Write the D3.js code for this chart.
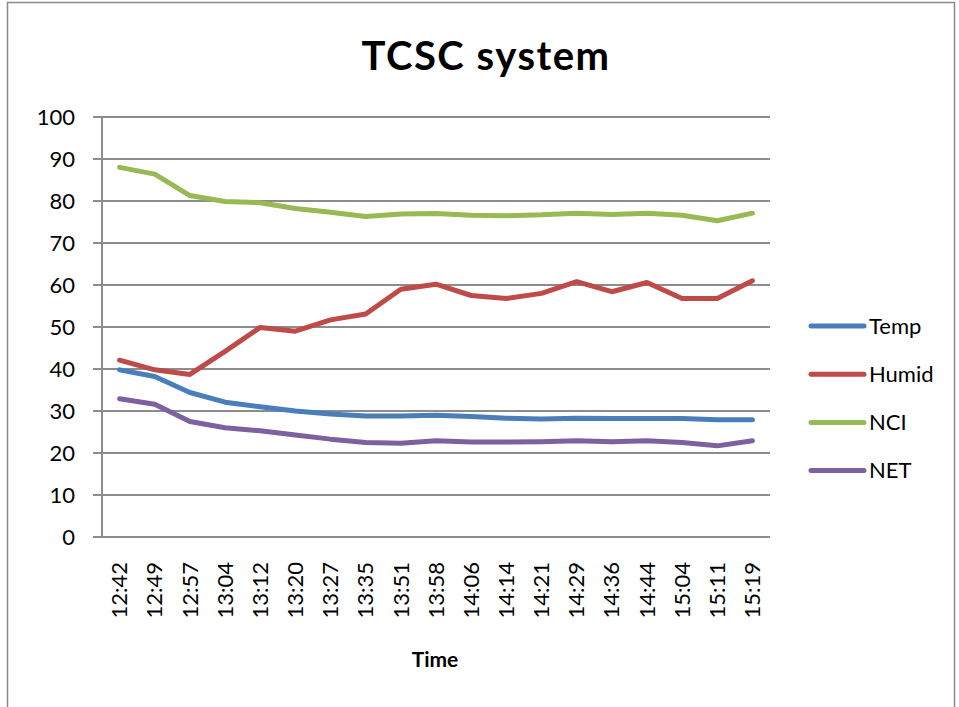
<!DOCTYPE html>
<html><head><meta charset="utf-8">
<script src="https://cdn.jsdelivr.net/npm/d3@7"></script>
<style>body{margin:0;background:#fff}svg{display:block}</style>
</head><body>
<svg id="c" width="959" height="707"></svg>
<script>
const categories = ["12:42","12:49","12:57","13:04","13:12","13:20","13:27","13:35","13:51","13:58","14:06","14:14","14:21","14:29","14:36","14:44","15:04","15:11","15:19"];
const temp  = [39.8,38.2,34.4,32.1,31.0,30.0,29.3,28.8,28.8,29.0,28.7,28.3,28.1,28.3,28.2,28.2,28.2,27.9,27.9];
const humid = [42.1,39.8,38.7,44.2,49.9,49.0,51.7,53.1,59.0,60.2,57.5,56.8,58.0,60.8,58.4,60.6,56.8,56.8,61.0];
const nci   = [88.0,86.4,81.3,79.9,79.6,78.2,77.3,76.3,76.9,77.0,76.6,76.5,76.7,77.1,76.8,77.1,76.6,75.3,77.1];
const net   = [32.9,31.6,27.5,26.0,25.3,24.3,23.3,22.5,22.3,22.9,22.6,22.6,22.7,22.9,22.7,22.9,22.5,21.7,22.9];
const seriesNames = ["Temp","Humid","NCI","NET"];
const seriesColors = ["#4A7EBB","#BE4B48","#98B954","#7D60A0"];
const yTicks = [0,10,20,30,40,50,60,70,80,90,100];
const title = "TCSC system";
const xTitle = "Time";

const series = [temp, humid, nci, net];
const svg = d3.select("#c");
const font = "Lato, 'Open Sans', sans-serif";

svg.append("rect").attr("x",7.5).attr("y",2.5).attr("width",947).attr("height",730)
  .attr("fill","none").attr("stroke","#8a8a8a").attr("stroke-width",1.5);

const L = 102, R = 770, T = 117, B = 537;
const x = d3.scaleBand().domain(categories).range([L, R]);
const y = d3.scaleLinear().domain([0,100]).range([B, T]);

// gridlines
const g = svg.append("g");
g.selectAll("line.grid").data(yTicks).join("line")
  .attr("x1", L-9).attr("x2", R).attr("y1", d=>y(d)).attr("y2", d=>y(d))
  .attr("stroke","#8c8c8c").attr("stroke-width",2);
g.append("line").attr("x1",L).attr("x2",L).attr("y1",T).attr("y2",B)
  .attr("stroke","#8c8c8c").attr("stroke-width",2);

// y labels
svg.append("g").selectAll("text").data(yTicks).join("text")
  .attr("x", 75).attr("y", d=>y(d)).attr("dy","0.35em")
  .attr("text-anchor","end").attr("font-family",font).attr("font-size",22)
  .attr("fill","#000").text(d=>d);

// x labels
svg.append("g").selectAll("text").data(categories).join("text")
  .attr("transform", d=>`translate(${x(d)+x.bandwidth()/2},562) rotate(-90)`)
  .attr("dy","0.35em").attr("text-anchor","end")
  .attr("font-family",font).attr("font-size",22).attr("fill","#000").text(d=>d);

// lines
const line = d3.line().x((d,i)=>x(categories[i])+x.bandwidth()/2).y(d=>y(d));
series.forEach((s,k)=>{
  svg.append("path").datum(s).attr("d",line).attr("fill","none")
    .attr("stroke",seriesColors[k]).attr("stroke-width",5)
    .attr("stroke-linejoin","round").attr("stroke-linecap","round");
});

// legend
const lg = svg.append("g");
seriesNames.forEach((n,k)=>{
  const yy = 326 + k*48.2;
  lg.append("line").attr("x1",811).attr("x2",864).attr("y1",yy).attr("y2",yy)
    .attr("stroke",seriesColors[k]).attr("stroke-width",5).attr("stroke-linecap","round");
  lg.append("text").attr("x",869).attr("y",yy).attr("dy","0.35em")
    .attr("font-family",font).attr("font-size",22).attr("fill","#000").text(n);
});

// titles
svg.append("text").attr("x",486).attr("y",70).attr("text-anchor","middle")
  .attr("font-family",font).attr("font-weight","bold").attr("font-size",40)
  .attr("letter-spacing",1.5).attr("fill","#000").text(title);
svg.append("text").attr("x",435).attr("y",667).attr("text-anchor","middle")
  .attr("font-family",font).attr("font-weight","bold").attr("font-size",21).attr("fill","#000").text(xTitle);
</script>
</body></html>
